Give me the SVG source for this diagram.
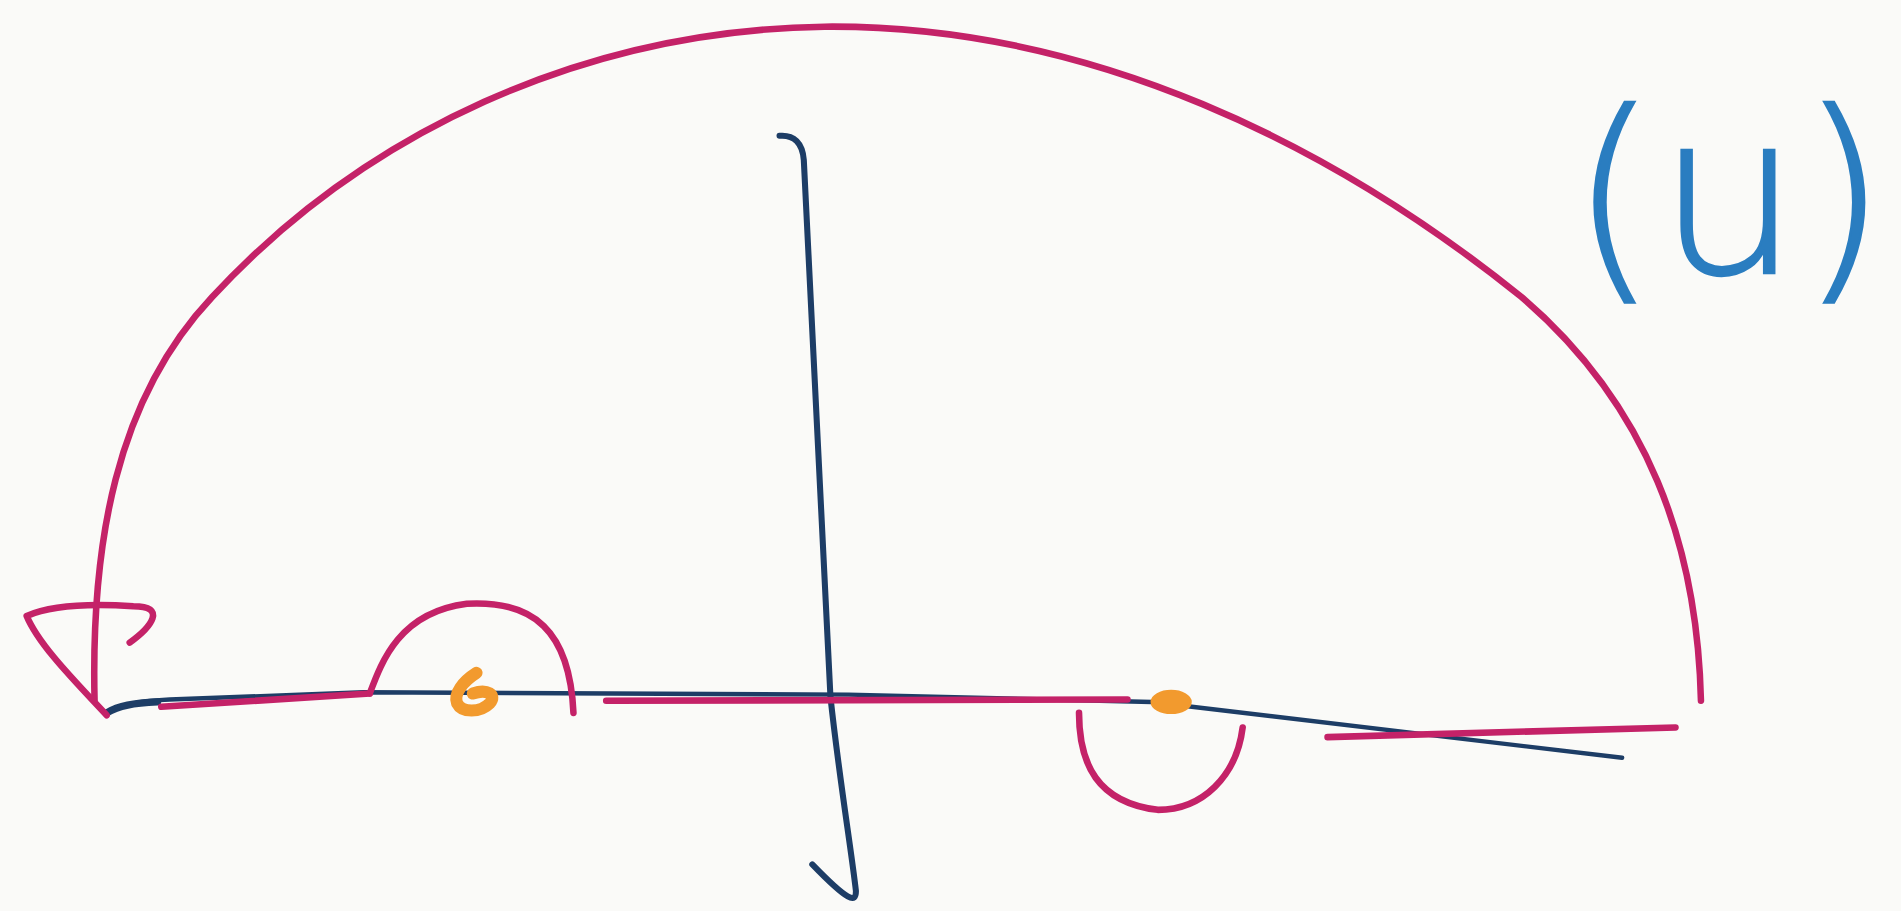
<svg xmlns="http://www.w3.org/2000/svg" width="1901" height="911" viewBox="0 0 1901 911">
<style>
.m{fill:none;stroke:#c42268;stroke-width:5.4;stroke-linecap:round;stroke-linejoin:round}
.n{fill:none;stroke:#1d3d66;stroke-width:3.6;stroke-linecap:round;stroke-linejoin:round}
.o{fill:#f29a2e;stroke:#f29a2e;stroke-linecap:round;stroke-linejoin:round}
</style>
<rect width="1901" height="911" fill="#fafaf8"/>
<g transform="scale(1.21237)">
<g id="axes">
<path class="n" style="stroke-width:5" d="M643,112 C655,111 662,118 663,132 L685,575 C692,640 702,700 706,735 C706,745 700,744 670,713"/>
<path class="n" d="M88,588 C100,580 120,578 140,577 L300,571 L700,573 L950,579 L1338,625" />
<path class="n" d="M88,588 C98,582 110,580 130,579" style="stroke-width:6"/>
</g>
<g id="contour">
<path class="m" d="M78,578 C75,450 95,330 175,245 C300,110 480,25 680,22 C900,20 1100,120 1255,245 C1360,335 1400,450 1403,578"/>
<path class="m" d="M107,530 C125,517 138,500 110,500 C80,498 45,498 22,508 C32,532 62,562 88,590"/>
<path class="m" d="M133,583 L305,572"/>
<path class="m" d="M305,572 C315,545 330,505 385,498 C440,495 470,520 473,588"/>
<path class="m" d="M500,578 L930,577"/>
<path class="m" d="M890,588 C890,630 905,662 955,668 C992,668 1020,640 1025,600"/>
<path class="m" d="M1095,608 C1200,605 1300,603 1382,600"/>
</g>
<g id="poles">
<path class="o" style="stroke-width:10;fill:none" d="M393,555 C382,562 374,572 377,580 C381,588 396,588 404,580 C410,573 402,568 390,572"/>
<ellipse class="o" cx="966" cy="579" rx="16" ry="9" style="stroke-width:2"/>
</g>
<g id="label">
<text x="1295" y="225" font-family="DejaVu Sans, sans-serif" font-weight="200" font-size="185" fill="#2a7dc0" stroke="#2a7dc0" stroke-width="2">(u)</text>
</g>
</g>
</svg>
